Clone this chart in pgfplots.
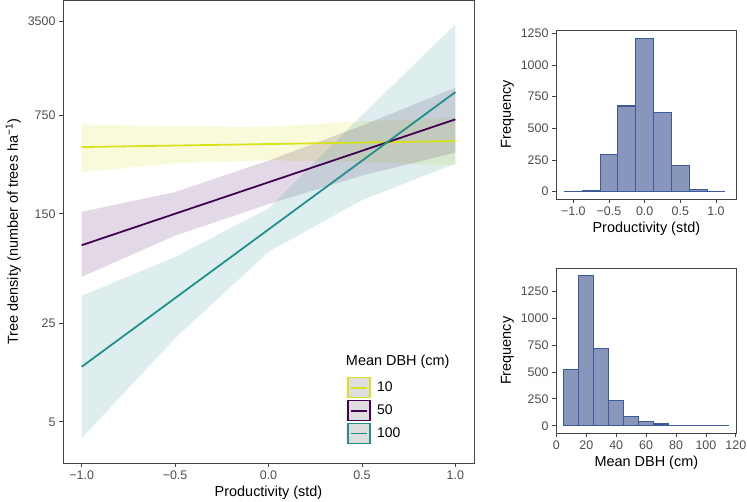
\documentclass[border=0pt]{standalone}
\usepackage{fontspec}
\setmainfont{Liberation Sans}
\usepackage{pgfplots}
\pgfplotsset{compat=1.18}
\definecolor{cyel}{HTML}{D6E21C}
\definecolor{cpur}{HTML}{440154}
\definecolor{cteal}{HTML}{21908C}
\definecolor{tickc}{HTML}{4D4D4D}
\definecolor{axc}{HTML}{444444}
\definecolor{hfill}{HTML}{8796BA}
\definecolor{hedge}{HTML}{3B5A9A}
\pgfplotsset{
  common/.style={
    scale only axis,
    axis line style={axc, line width=0.7bp},
    tick style={axc, line width=0.7bp},
    tick align=outside,
    major tick length=4bp,
    xtick pos=bottom, ytick pos=left,
    tick label style={font=\fontsize{12.5}{14}\selectfont, text=tickc},
    label style={font=\fontsize{14.5}{17}\selectfont},
  },
  keyimg/.style={legend image code/.code={
    \draw[draw=#1, line width=1.3bp, fill=black!13] (0bp,-10bp) rectangle (22bp,10bp);
    \draw[#1, line width=1.8bp] (3bp,0bp) -- (19bp,0bp);}},
}
\begin{document}
\begin{tikzpicture}
\useasboundingbox (0,0) rectangle (747bp,502bp);
% ---------------- main panel ----------------
\begin{axis}[common,
  at={(63bp,39bp)}, anchor=south west,
  width=411bp, height=462.5bp,
  xmin=-1.1, xmax=1.1,
  ymode=log, ymin=2.55, ymax=4910,
  xtick={-1,-0.5,0,0.5,1},
  xticklabels={−1.0,−0.5,0.0,0.5,1.0},
  ytick={5,25,150,750,3500},
  yticklabels={5,25,150,750,3500},
  xlabel={Productivity (std)},
  ylabel={Tree density (number of trees ha\textsuperscript{−1})},
  legend style={at={(0.691,0.186)}, anchor=north west, draw=none, fill=none,
    font=\fontsize{14}{16}\selectfont, row sep=1.5bp, inner sep=0pt,
    nodes={inner sep=1.5bp}},
  legend cell align=left,
]
% ribbons
\addplot[fill=cyel, fill opacity=0.17, draw=none, forget plot] coordinates {
  (-1,647) (-0.5,627) (0,624) (0.5,680) (1,723)
  (1,332) (0.5,348) (0,360) (-0.5,343) (-1,297)} -- cycle;
\addplot[fill=cpur, fill opacity=0.15, draw=none, forget plot] coordinates {
  (-1,155) (-0.5,214) (0,358) (0.5,634) (1,1180)
  (1,408) (0.5,280) (0,176) (-0.5,105) (-1,53.5)} -- cycle;
\addplot[fill=cteal, fill opacity=0.15, draw=none, forget plot] coordinates {
  (-1,39.3) (-0.5,74) (0,164) (0.5,753) (1,3317)
  (1,341) (0.5,187.5) (0,80.5) (-0.5,19.6) (-1,3.82)} -- cycle;
% lines
\addplot[cyel, line width=1.8bp, forget plot] coordinates {(-1,447) (1,493)};
\addplot[cpur, line width=1.8bp, forget plot] coordinates {(-1,89.8) (1,703)};
\addplot[cteal, line width=1.8bp, forget plot] coordinates {(-1,12.3) (1,1097)};
\addlegendimage{keyimg=cyel}\addlegendentry{\hspace*{5bp}10}
\addlegendimage{keyimg=cpur}\addlegendentry{\hspace*{5bp}50}
\addlegendimage{keyimg=cteal}\addlegendentry{\hspace*{5bp}100}
\node[anchor=south west, font=\fontsize{14.5}{16}\selectfont, inner sep=0pt]
  at (rel axis cs:0.688,0.203) {Mean DBH (cm)};
\end{axis}
% ---------------- top histogram ----------------
\begin{axis}[common,
  at={(556bp,303bp)}, anchor=south west,
  width=180.7bp, height=169bp,
  xmin=-1.243, xmax=1.29, ymin=-58, ymax=1276,
  xtick={-1,-0.5,0,0.5,1},
  xticklabels={−1.0,−0.5,0.0,0.5,1.0},
  ytick={0,250,500,750,1000,1250},
  yticklabels={0,250,500,750,1000,1250},
  xlabel={Productivity (std)}, ylabel={Frequency},
]
\addplot[ybar, bar width=0.25, bar shift=0pt, fill=hfill, draw=hedge, line width=1.1bp]
coordinates {(-1,1) (-0.75,5) (-0.5,293) (-0.25,676) (0,1212) (0.25,628) (0.5,209) (0.75,18) (1,4)};
\end{axis}
% ---------------- bottom histogram ----------------
\begin{axis}[common,
  at={(556bp,68.7bp)}, anchor=south west,
  width=180.7bp, height=165bp,
  xmin=-0.3, xmax=120.6, ymin=-70, ymax=1461,
  xtick={0,20,40,60,80,100,120},
  xticklabels={0,20,40,60,80,100,120},
  ytick={0,250,500,750,1000,1250},
  yticklabels={0,250,500,750,1000,1250},
  xlabel={Mean DBH (cm)}, ylabel={Frequency},
]
\addplot[ybar, bar width=10, bar shift=0pt, fill=hfill, draw=hedge, line width=1.1bp]
coordinates {(10,524) (20,1396) (30,718) (40,238) (50,90) (60,37) (70,16) (80,6) (90,3) (100,2) (110,1)};
\end{axis}
\end{tikzpicture}
\end{document}
